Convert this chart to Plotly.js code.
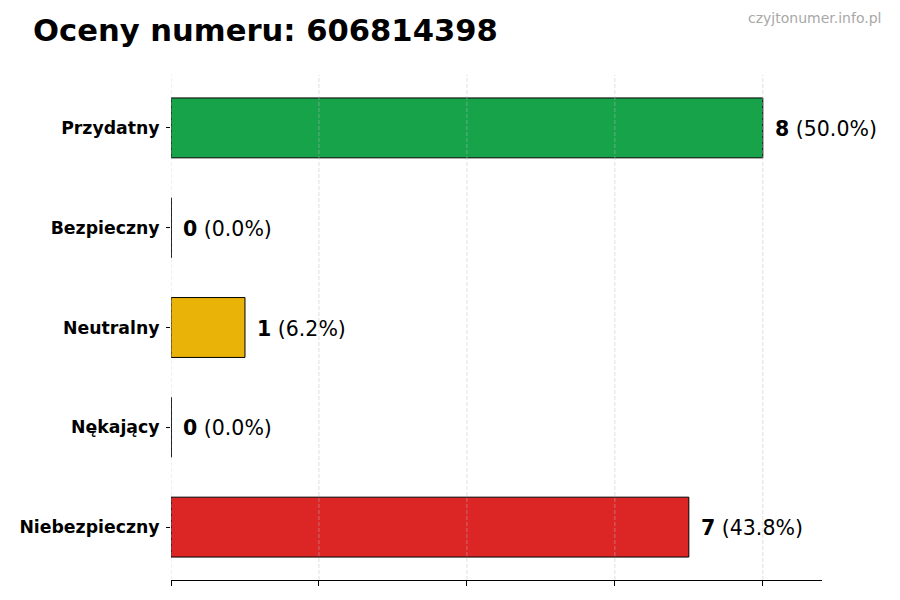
<!DOCTYPE html>
<html>
<head>
<meta charset="utf-8">
<script src="https://cdn.plot.ly/plotly-3.0.1.min.js"></script>
<style>
  html, body { margin: 0; padding: 0; background: #fff; }
  #chart { width: 900px; height: 600px; }
</style>
</head>
<body>
<div id="chart"></div>
<script>
// ratings for the number, top to bottom
const categories = ['Przydatny', 'Bezpieczny', 'Neutralny', 'Nękający', 'Niebezpieczny'];
const counts = [8, 0, 1, 0, 7];
const pctLabels = ['50.0', '0.0', '6.2', '0.0', '43.8'];
const barColors = ['#16a34a', '#16a34a', '#eab308', '#dc2626', '#dc2626'];
const gridTicks = [0, 2, 4, 6, 8];

const FONT = 'DejaVu Sans, Verdana, sans-serif';

// figure geometry (pixels)
const L = 171, R = 78, T = 75, B = 20, W = 900, H = 600;
const pw = W - L - R, ph = H - T - B;
const toPaperX = (px) => (px - L) / pw;
const toPaperY = (py) => (H - B - py) / ph;

const trace = {
  type: 'bar',
  orientation: 'h',
  x: counts,
  y: categories,
  width: 0.6,
  marker: { color: barColors, line: { color: '#000', width: 1 } },
  hoverinfo: 'skip',
};

// value labels to the right of each bar
const annotations = categories.map((c, i) => ({
  x: counts[i], y: c, xref: 'x', yref: 'y',
  text: `<b>${counts[i]}</b> (${pctLabels[i]}%)`,
  showarrow: false, xanchor: 'left', yanchor: 'middle', xshift: 10, yshift: -1,
  font: { family: FONT, size: 20.5, color: '#000' },
}));

annotations.push({
  x: toPaperX(31), y: toPaperY(31), xref: 'paper', yref: 'paper',
  xanchor: 'left', yanchor: 'middle',
  text: '<b>Oceny numeru: 606814398</b>', showarrow: false,
  font: { family: FONT, size: 30.6, color: '#000' },
});
annotations.push({
  x: toPaperX(883), y: toPaperY(18), xref: 'paper', yref: 'paper',
  xanchor: 'right', yanchor: 'middle',
  text: 'czyjtonumer.info.pl', showarrow: false,
  font: { family: FONT, size: 14, color: '#a8a8a8' },
});

// dashed grid on top of bars (matplotlib style), and hairlines for empty bars
const shapes = gridTicks.map((t) => ({
  type: 'line', layer: 'above', xref: 'x', yref: 'paper',
  x0: t, x1: t, y0: 0, y1: 1,
  line: { color: 'rgba(190,190,190,0.6)', width: 0.8, dash: '4px,2px' },
}));
categories.forEach((c, i) => {
  if (counts[i] === 0) {
    shapes.push({
      type: 'line', layer: 'above', xref: 'x', yref: 'y',
      x0: 0, x1: 0, y0: i - 0.3, y1: i + 0.3,
      line: { color: '#000', width: 1 },
    });
  }
});

const layout = {
  width: W, height: H,
  margin: { l: L, r: R, t: T, b: B },
  paper_bgcolor: '#fff', plot_bgcolor: '#fff',
  showlegend: false,
  font: { family: FONT, color: '#000' },
  xaxis: {
    range: [0, 8.8], tickvals: gridTicks, showticklabels: false,
    showgrid: false, zeroline: false,
    showline: true, linecolor: '#000', linewidth: 1,
    ticks: 'outside', ticklen: 5, tickcolor: '#000', tickwidth: 1,
  },
  yaxis: {
    type: 'category', categoryorder: 'array', categoryarray: categories,
    range: [4.53, -0.53],
    showgrid: false, zeroline: false, showline: false,
    ticks: 'outside', ticklen: 4, tickcolor: '#000', tickwidth: 1,
    ticklabelstandoff: 3,
    tickfont: { family: FONT, size: 17.3, color: '#000', weight: 'bold' },
  },
  shapes: shapes,
  annotations: annotations,
};

Plotly.newPlot('chart', [trace], layout, { displayModeBar: false, staticPlot: true });
</script>
</body>
</html>
